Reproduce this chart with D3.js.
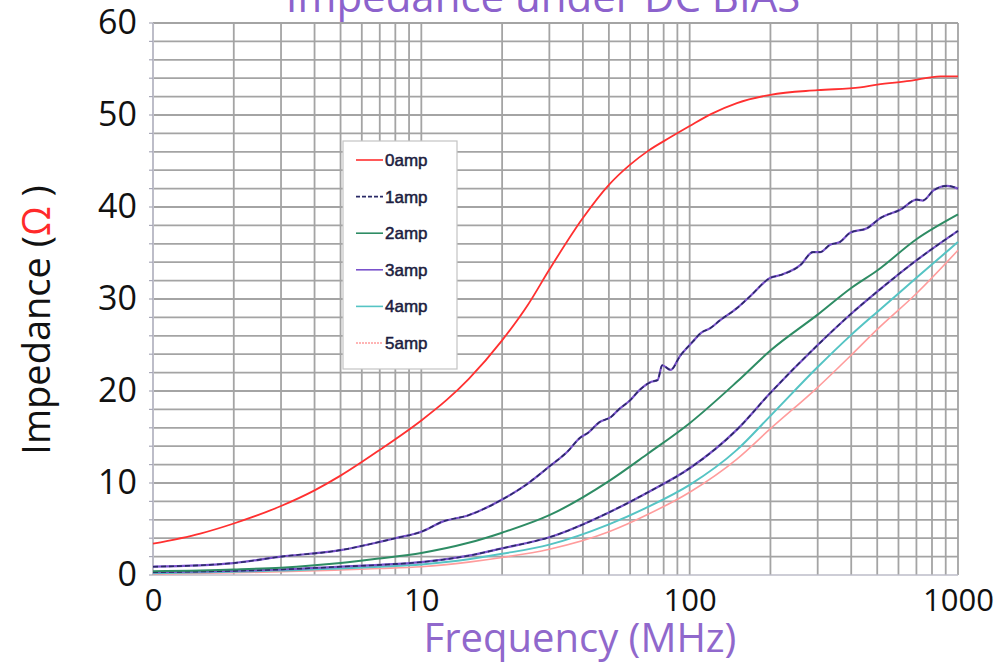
<!DOCTYPE html>
<html>
<head>
<meta charset="utf-8">
<script src="https://cdn.jsdelivr.net/npm/d3@7"></script>
<style>
  body { margin: 0; background: #fff; }
  svg { display: block; font-family: "Open Sans", sans-serif; }
</style>
</head>
<body>
<div id="chart"></div>
<script>
// series data (frequency in MHz, impedance in ohm)
var freqs = [1, 2, 3, 5, 7, 10, 15, 20, 30, 50, 70, 100, 150, 200, 300, 400, 500, 700, 1000];

var freq0 = [1, 1.5, 2, 3, 4, 5, 7, 10, 12.4, 15, 20, 25, 30, 40, 50, 60, 70, 85, 100, 120, 150, 200, 300, 432, 500, 660, 860, 1000];
var amp0 = [3.4, 4.5, 5.6, 7.5, 9.2, 10.8, 13.6, 16.8, 19.0, 21.3, 25.5, 29.4, 33.2, 38.8, 42.4, 44.6, 46.1, 47.6, 48.8, 50.1, 51.3, 52.2, 52.7, 53.0, 53.3, 53.7, 54.2, 54.2];

var freq1 = [1, 2, 3, 5, 7, 8, 10, 12, 15, 20, 24, 30, 35, 39, 42, 46, 51, 54, 60, 65, 72, 76, 79, 85, 92, 103, 110, 119, 130, 150, 168, 200, 218, 259, 288, 306, 334, 363, 396, 458, 514, 609, 703, 740, 810, 910, 1000];
var amp1 = [0.9, 1.3, 2.0, 2.7, 3.6, 4.0, 4.7, 5.8, 6.5, 8.2, 9.6, 11.8, 13.4, 14.9, 15.5, 16.6, 17.2, 17.9, 19.0, 20.1, 21.0, 21.2, 22.8, 22.3, 23.8, 25.4, 26.3, 26.8, 27.7, 29.0, 30.3, 32.3, 32.6, 33.7, 35.1, 35.1, 35.9, 36.2, 37.2, 37.7, 38.8, 39.7, 40.8, 40.7, 41.8, 42.3, 42.0];

var amp2 = [0.4, 0.6, 0.8, 1.3, 1.8, 2.4, 3.5, 4.6, 6.5, 10.2, 13.2, 16.5, 21.0, 24.4, 28.3, 31.2, 33.1, 36.5, 39.2];
var amp3 = [0.3, 0.45, 0.6, 0.9, 1.1, 1.4, 2.1, 2.9, 4.1, 6.8, 9.0, 11.6, 15.8, 19.8, 25.0, 28.4, 30.8, 34.2, 37.4];
var amp4 = [0.2, 0.35, 0.5, 0.7, 0.9, 1.15, 1.7, 2.3, 3.3, 5.5, 7.4, 9.8, 13.6, 17.3, 22.6, 26.1, 28.6, 32.3, 36.2];
var amp5 = [0.1, 0.25, 0.35, 0.55, 0.7, 0.9, 1.4, 1.9, 2.8, 4.7, 6.6, 9.0, 12.6, 15.9, 20.4, 23.9, 26.7, 30.6, 35.3];

var seriesNames = ["0amp", "1amp", "2amp", "3amp", "4amp", "5amp"];
var xTickValues = [1, 10, 100, 1000];
var xTickLabels = ["0", "10", "100", "1000"];
var yTickValues = [0, 10, 20, 30, 40, 50, 60];

var svgWidth = 1004;
var svgHeight = 663;
var margin = { top: 23, right: 46, bottom: 88, left: 153 };
var width = svgWidth - margin.left - margin.right;
var height = svgHeight - margin.top - margin.bottom;

var svg = d3.select("#chart").append("svg")
  .attr("width", svgWidth)
  .attr("height", svgHeight);

var chartGroup = svg.append("g")
  .attr("transform", `translate(${margin.left}, ${margin.top})`);

var x = d3.scaleLog().domain([1, 1000]).range([0, width]);
var y = d3.scaleLinear().domain([0, 60]).range([height, 0]);

var gridColor = "#a4a4a4";

// horizontal grid every 2 ohm
chartGroup.append("g").selectAll("line")
  .data(d3.range(2, 61, 2))
  .enter().append("line")
  .attr("x1", 0).attr("x2", width)
  .attr("y1", d => y(d)).attr("y2", d => y(d))
  .attr("stroke", gridColor).attr("stroke-width", 1.8);

// vertical log grid
var logGrid = [];
[1, 10, 100].forEach(function(dec) {
  for (var k = 2; k <= 10; k++) logGrid.push(dec * k);
});
chartGroup.append("g").selectAll("line")
  .data(logGrid)
  .enter().append("line")
  .attr("x1", d => x(d)).attr("x2", d => x(d))
  .attr("y1", 0).attr("y2", height)
  .attr("stroke", gridColor).attr("stroke-width", 1.8);

// left axis line with small ticks
chartGroup.append("line")
  .attr("x1", 0).attr("x2", 0).attr("y1", 0).attr("y2", height)
  .attr("stroke", "#bdbdc8").attr("stroke-width", 2);
chartGroup.append("g").selectAll("line")
  .data(d3.range(0, 61, 2))
  .enter().append("line")
  .attr("x1", -4).attr("x2", 0)
  .attr("y1", d => y(d)).attr("y2", d => y(d))
  .attr("stroke", "#a8a8b8").attr("stroke-width", 1.2);
chartGroup.append("line")
  .attr("x1", 0).attr("x2", width).attr("y1", height).attr("y2", height)
  .attr("stroke", "#bdbdc8").attr("stroke-width", 1.6);

// axes labels
var xAxis = d3.axisBottom(x).tickValues(xTickValues)
  .tickFormat((d, i) => xTickLabels[i]).tickSize(0).tickPadding(14);
chartGroup.append("g")
  .attr("transform", `translate(0, ${height})`)
  .call(xAxis)
  .call(g => g.select(".domain").remove())
  .selectAll("text")
  .attr("font-size", 31).attr("fill", "#111")
  .attr("font-family", "Open Sans, sans-serif");

var yAxis = d3.axisLeft(y).tickValues(yTickValues).tickSize(0).tickPadding(16);
chartGroup.append("g")
  .call(yAxis)
  .call(g => g.select(".domain").remove())
  .selectAll("text")
  .attr("font-size", 34).attr("fill", "#111")
  .attr("font-family", "Open Sans, sans-serif");

// curves
var line = d3.line()
  .x(d => x(d[0]))
  .y(d => y(d[1]))
  .curve(d3.curveMonotoneX);

function pairs(fs, vs) { return fs.map((f, i) => [f, vs[i]]); }

var curves = chartGroup.append("g");
curves.append("path").datum(pairs(freqs, amp5)).attr("d", line)
  .attr("fill", "none").attr("stroke", "#ff9c9c").attr("stroke-width", 1.6);
curves.append("path").datum(pairs(freqs, amp4)).attr("d", line)
  .attr("fill", "none").attr("stroke", "#55c4c4").attr("stroke-width", 2);
curves.append("path").datum(pairs(freqs, amp3)).attr("d", line)
  .attr("fill", "none").attr("stroke", "#7a52cc").attr("stroke-width", 2.2);
curves.append("path").datum(pairs(freqs, amp3)).attr("d", line)
  .attr("fill", "none").attr("stroke", "#2a2a66").attr("stroke-width", 1.6)
  .attr("stroke-dasharray", "5,3");
curves.append("path").datum(pairs(freqs, amp2)).attr("d", line)
  .attr("fill", "none").attr("stroke", "#2e8c64").attr("stroke-width", 2);
curves.append("path").datum(pairs(freq1, amp1)).attr("d", line)
  .attr("fill", "none").attr("stroke", "#7a52cc").attr("stroke-width", 2.2);
curves.append("path").datum(pairs(freq1, amp1)).attr("d", line)
  .attr("fill", "none").attr("stroke", "#2a2a66").attr("stroke-width", 1.6)
  .attr("stroke-dasharray", "5,3");
curves.append("path").datum(pairs(freq0, amp0)).attr("d", line)
  .attr("fill", "none").attr("stroke", "#ff3030").attr("stroke-width", 1.8);

// legend
var legendColors = ["#ff3030", "#2a2a66", "#2e8c64", "#7a52cc", "#55c4c4", "#ff9c9c"];
var legendDash = [null, "4,2", null, null, null, "2,1"];
var legend = svg.append("g").attr("transform", "translate(343, 141)");
legend.append("rect")
  .attr("x", 0).attr("y", 0).attr("width", 114).attr("height", 228)
  .attr("fill", "#fff").attr("stroke", "#c4c4c4").attr("stroke-width", 1.2);
var items = legend.selectAll(".item")
  .data(seriesNames)
  .enter().append("g")
  .attr("transform", (d, i) => `translate(0, ${19 + i * 36.6})`);
items.append("line")
  .attr("x1", 13).attr("x2", 40).attr("y1", 0).attr("y2", 0)
  .attr("stroke", (d, i) => legendColors[i])
  .attr("stroke-width", 1.6)
  .attr("stroke-dasharray", (d, i) => legendDash[i]);
items.append("text")
  .attr("x", 42).attr("y", 6)
  .attr("font-family", "Liberation Sans, Arial, sans-serif")
  .attr("font-size", 17)
  .attr("fill", "#1c1c40").attr("stroke", "#1c1c40").attr("stroke-width", 0.5)
  .text(d => d);

// title and axis titles
svg.append("text")
  .attr("x", 543).attr("y", 12)
  .attr("text-anchor", "middle")
  .attr("font-size", 42).attr("fill", "#8c62cc")
  .text("Impedance under DC BIAS");

svg.append("text")
  .attr("x", 580).attr("y", 652)
  .attr("text-anchor", "middle")
  .attr("font-size", 40).attr("fill", "#9068cc")
  .text("Frequency (MHz)");

var yLabel = svg.append("text")
  .attr("transform", "translate(50, 320) rotate(-90)")
  .attr("text-anchor", "middle")
  .attr("font-size", 38).attr("fill", "#111");
yLabel.append("tspan").text("Impedance (");
yLabel.append("tspan").attr("fill", "#ff2a2a").text("Ω");
yLabel.append("tspan").text(" )");
</script>
</body>
</html>
